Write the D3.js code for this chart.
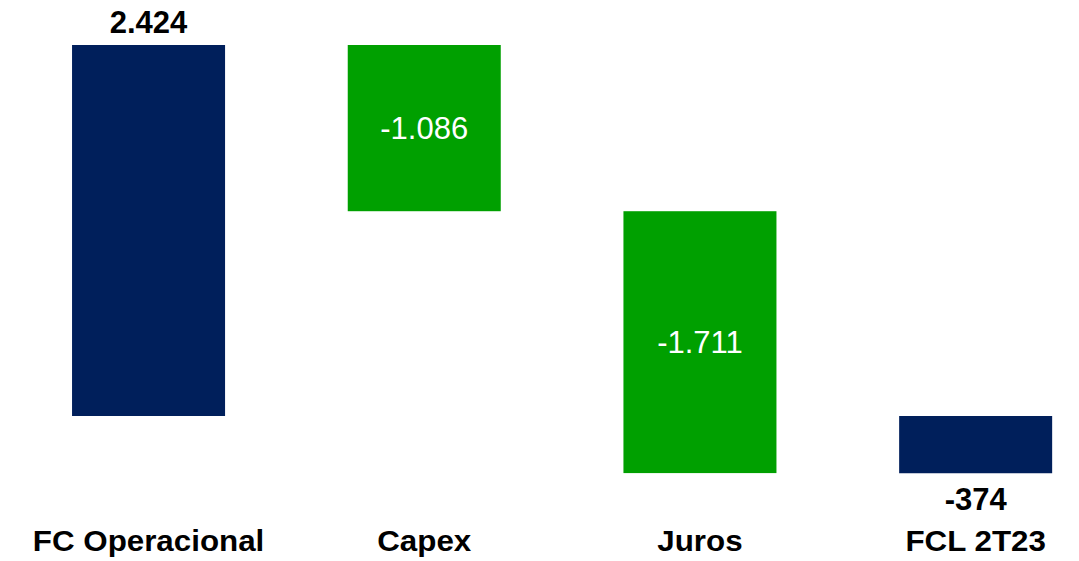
<!DOCTYPE html>
<html><head><meta charset="utf-8">
<script src="https://cdn.jsdelivr.net/npm/d3@7/dist/d3.min.js"></script>
<style>html,body{margin:0;padding:0;background:#fff;}svg{display:block;font-family:"Liberation Sans",Arial,sans-serif;}</style>
</head><body><svg id="c" width="1079" height="561"></svg>
<script>
const categories = ["FC Operacional", "Capex", "Juros", "FCL 2T23"];
const values = [2424, -1086, -1711, -374];
const kinds = ["total", "delta", "delta", "total"];
const labels = ["2.424", "-1.086", "-1.711", "-374"];
const colors = {total: "#001F5B", delta: "#00A000"};

const svg = d3.select("#c");
const x = d3.scaleBand().domain(categories).range([10.7, 1113.5]).paddingInner(0.445).paddingOuter(0.2225);
const y = d3.scaleLinear().domain([0, 2424]).range([416, 45]);

let cum = 0;
const bars = categories.map((c, i) => {
  let y0, y1;
  if (kinds[i] === "total") { y0 = 0; y1 = values[i]; cum = values[i]; }
  else { y0 = cum; y1 = cum + values[i]; cum = y1; }
  return {c, y0, y1, v: values[i], kind: kinds[i], label: labels[i]};
});

svg.selectAll("rect.bar").data(bars).join("rect")
  .attr("x", d => x(d.c)).attr("width", x.bandwidth())
  .attr("y", d => y(Math.max(d.y0, d.y1)))
  .attr("height", d => Math.abs(y(d.y0) - y(d.y1)))
  .attr("fill", d => colors[d.kind]);

svg.selectAll("text.val").data(bars).join("text")
  .attr("x", d => x(d.c) + x.bandwidth()/2)
  .attr("y", d => {
    if (d.kind === "total") return d.v >= 0 ? y(d.y1) - 12 : y(d.y1) + 37;
    return (y(d.y0) + y(d.y1))/2 + 11;
  })
  .attr("text-anchor", "middle")
  .attr("font-size", 31)
  .attr("font-weight", d => d.kind === "total" ? "bold" : "normal")
  .attr("fill", d => d.kind === "total" ? "#000" : "#fff")
  .text(d => d.label);

svg.selectAll("text.cat").data(categories).join("text")
  .attr("transform", d => `translate(${x(d) + x.bandwidth()/2},551) scale(1.08,1)`)
  .attr("text-anchor", "middle")
  .attr("font-size", 29).attr("font-weight", "bold").attr("fill", "#000")
  .text(d => d);
</script></body></html>
